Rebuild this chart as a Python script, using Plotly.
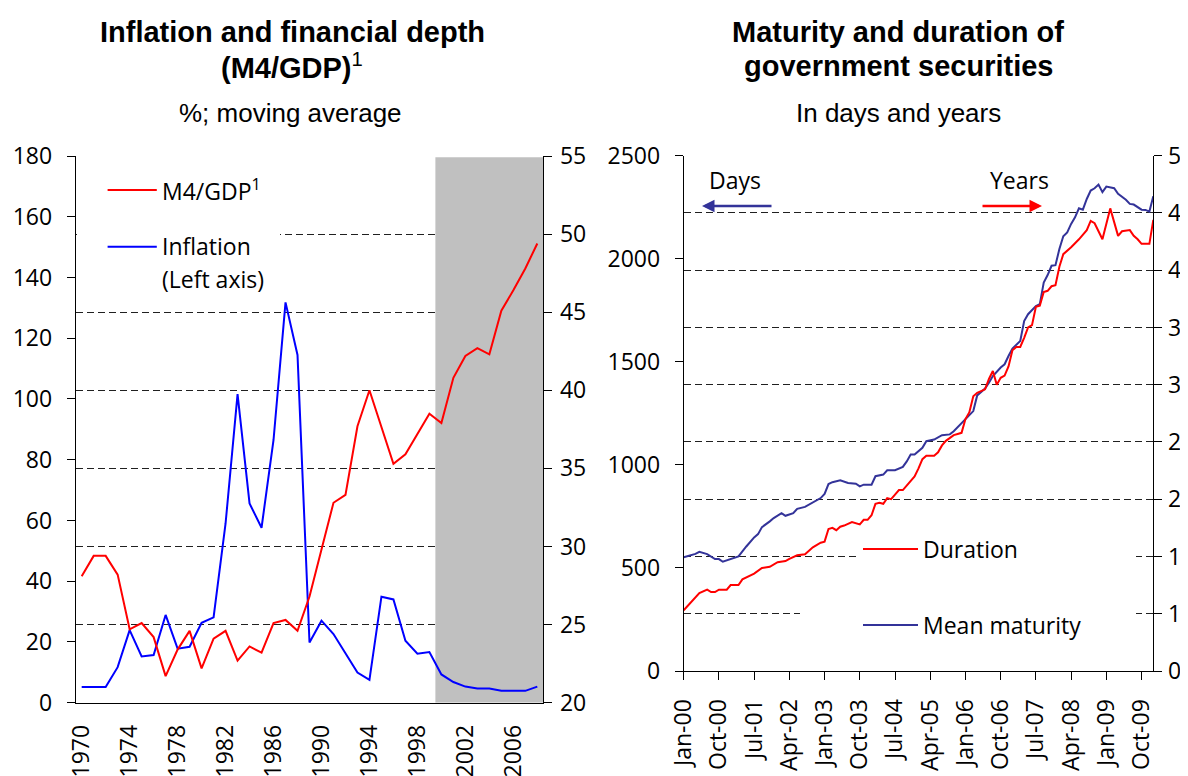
import plotly.graph_objects as go

# ---------------- Left panel data ----------------
years = list(range(1970, 2009))
inflation = [5.2, 5.2, 5.2, 11.7, 23.9, 15.2, 15.7, 28.9, 17.8, 18.4,
             26.3, 28.1, 59.0, 101.6, 65.6, 57.6, 86.5, 131.8, 114.5, 19.8,
             27.0, 22.6, 16.3, 9.9, 7.5, 34.9, 34.0, 20.4, 16.1, 16.7,
             9.3, 6.8, 5.3, 4.7, 4.7, 3.9, 3.9, 3.9, 5.3]
m4_gdp = [28.1, 29.4, 29.4, 28.2, 24.7, 25.1, 24.2, 21.7, 23.4, 24.6,
          22.2, 24.1, 24.6, 22.7, 23.6, 23.2, 25.1, 25.3, 24.6, 26.8,
          29.8, 32.8, 33.3, 37.7, 40.0, 37.7, 35.3, 35.9, 37.2, 38.5,
          37.9, 40.8, 42.2, 42.7, 42.3, 45.1, 46.4, 47.8, 49.4]
year_tick_vals = [1970, 1974, 1978, 1982, 1986, 1990, 1994, 1998, 2002, 2006]
year_tick_text = ["1970", "1974", "1978", "1982", "1986", "1990", "1994", "1998", "2002", "2006"]
shade_from, shade_to = 1999.5, 2008.5

# ---------------- Right panel data ----------------
maturity_month = [0, 3, 4, 6, 8, 9, 10, 12, 14, 16, 18, 19, 20, 22, 23, 25, 26, 28, 29, 31,
                  33, 35, 36, 37, 38, 40, 42, 44, 45, 46, 48, 49, 51, 52, 54, 56, 57, 58, 59, 60,
                  61, 62, 64, 66, 68, 69, 71, 73, 74, 75, 77, 78, 79, 81, 82, 83, 84, 86, 87, 88,
                  90, 91, 92, 93, 94, 95, 96, 97, 98, 99, 100, 101, 102, 103, 104, 105, 106, 107, 108, 110,
                  111, 113, 114, 115, 117, 118, 119, 120]
maturity_days = [552, 568, 578, 567, 543, 543, 530, 543, 556, 604, 648, 664, 698, 726, 742, 766, 753, 766, 787, 796,
                 818, 839, 859, 907, 916, 925, 912, 909, 896, 904, 904, 945, 953, 974, 974, 990, 1017, 1050, 1050, 1066,
                 1083, 1115, 1123, 1144, 1148, 1163, 1204, 1245, 1261, 1337, 1370, 1399, 1431, 1472, 1488, 1528, 1564, 1601, 1698, 1731,
                 1771, 1780, 1885, 1921, 1966, 1969, 2047, 2109, 2128, 2169, 2201, 2245, 2238, 2290, 2331, 2342, 2360, 2323, 2350, 2342,
                 2315, 2286, 2266, 2263, 2238, 2237, 2229, 2303]
duration_month = [0, 2, 3, 4, 6, 7, 8, 9, 11, 12, 14, 15, 18, 20, 22, 24, 26, 27, 29, 31,
                  33, 35, 36, 37, 38, 39, 40, 41, 43, 45, 46, 47, 48, 49, 50, 51, 52, 53, 54, 55,
                  56, 58, 59, 60, 61, 62, 64, 65, 66, 67, 69, 70, 71, 72, 73, 74, 75, 77, 78, 79,
                  80, 81, 82, 83, 84, 85, 86, 87, 88, 89, 90, 91, 92, 93, 94, 95, 96, 97, 99, 101,
                  103, 104, 105, 107, 109, 110, 111, 112, 114, 115, 116, 117, 119, 120]
duration_years = [0.53, 0.61, 0.64, 0.68, 0.71, 0.69, 0.69, 0.71, 0.71, 0.75, 0.75, 0.80, 0.85, 0.90, 0.91, 0.95, 0.96, 0.98, 1.01, 1.02,
                  1.08, 1.12, 1.13, 1.24, 1.25, 1.23, 1.26, 1.27, 1.30, 1.28, 1.32, 1.32, 1.36, 1.46, 1.47, 1.46, 1.51, 1.50, 1.54, 1.58,
                  1.58, 1.66, 1.70, 1.77, 1.85, 1.88, 1.88, 1.91, 1.97, 2.01, 2.06, 2.07, 2.08, 2.20, 2.26, 2.40, 2.43, 2.46, 2.55, 2.62,
                  2.50, 2.56, 2.58, 2.66, 2.80, 2.83, 2.83, 2.91, 3.00, 3.02, 3.18, 3.19, 3.31, 3.32, 3.36, 3.37, 3.53, 3.64, 3.70, 3.77,
                  3.85, 3.93, 3.91, 3.77, 4.04, 3.92, 3.80, 3.84, 3.85, 3.80, 3.77, 3.73, 3.73, 3.94]
month_tick_vals = [0, 9, 18, 27, 36, 45, 54, 63, 72, 81, 90, 99, 108, 117]
month_tick_text = ["Jan-00", "Oct-00", "Jul-01", "Apr-02", "Jan-03", "Oct-03", "Jul-04",
                   "Apr-05", "Jan-06", "Oct-06", "Jul-07", "Apr-08", "Jan-09", "Oct-09"]
years_axis_vals = [0, 0.5, 1, 1.5, 2, 2.5, 3, 3.5, 4, 4.5]
years_axis_text = ["0", "1", "1", "2", "2", "3", "3", "4", "4", "5"]

# ---------------- layout helpers (page has an 8px body offset) ----------------
W, H = 1188, 776
OFF = 8
def fx(p):
    return (p - OFF) / W
def fy(p):
    return 1 - (p - OFF) / H

# panel pixel boxes (reference coordinates)
L_X0, L_X1, L_Y0, L_Y1 = 75.7, 543.3, 156.0, 702.7
R_X0, R_X1, R_Y0, R_Y1 = 683.7, 1153.3, 155.7, 671.0
L_XR = [1969.5, 2008.5]
L_YR = [0, 180]
R_XR = [0, 120]
R_YR = [0, 2500]
def lx(p):
    return L_XR[0] + (p - L_X0) / (L_X1 - L_X0) * (L_XR[1] - L_XR[0])
def ly(p):
    return L_YR[0] + (L_Y1 - p) / (L_Y1 - L_Y0) * (L_YR[1] - L_YR[0])
def rx(p):
    return R_XR[0] + (p - R_X0) / (R_X1 - R_X0) * (R_XR[1] - R_XR[0])
def ry(p):
    return R_YR[0] + (R_Y1 - p) / (R_Y1 - R_Y0) * (R_YR[1] - R_YR[0])

RED = "#FF0000"
BLUE = "#0000FF"
NAVY = "#333399"
GRID = "#202020"
TICKFONT = dict(family="Open Sans", size=23, color="black")
TITLEFONT = dict(family="Liberation Sans", size=29, color="black")
SUBFONT = dict(family="Liberation Sans", size=26, color="black")

fig = go.Figure()

fig.add_trace(go.Scatter(x=years, y=inflation, mode="lines", name="Inflation",
                         line=dict(color=BLUE, width=2), xaxis="x", yaxis="y"))
fig.add_trace(go.Scatter(x=years, y=m4_gdp, mode="lines", name="M4/GDP",
                         line=dict(color=RED, width=2), xaxis="x", yaxis="y2"))
fig.add_trace(go.Scatter(x=maturity_month, y=maturity_days, mode="lines", name="Mean maturity",
                         line=dict(color=NAVY, width=2), xaxis="x2", yaxis="y3"))
fig.add_trace(go.Scatter(x=duration_month, y=duration_years, mode="lines", name="Duration",
                         line=dict(color=RED, width=2), xaxis="x2", yaxis="y4"))

axis_common = dict(showline=True, linecolor="black", linewidth=1, zeroline=False,
                   automargin=False, tickfont=TICKFONT, tickcolor="black", ticklen=8,
                   ticklabelstandoff=10)

boundaries = [v - 0.5 for v in year_tick_vals]

fig.update_layout(
    width=W, height=H, margin=dict(l=0, r=0, t=0, b=0, autoexpand=False),
    paper_bgcolor="white", plot_bgcolor="white", showlegend=False,
    xaxis=dict(domain=[fx(L_X0), fx(L_X1)], anchor="y", range=L_XR,
               tickmode="array", tickvals=year_tick_vals, ticktext=year_tick_text,
               tickangle=-90, ticks="", showgrid=False,
               **{**axis_common, "ticklabelstandoff": 12}),
    # tick marks at category boundaries
    xaxis3=dict(overlaying="x", matches="x", anchor="y", side="bottom",
                tickmode="array", tickvals=boundaries, showticklabels=False,
                ticks="outside", ticklen=8, tickcolor="black", showgrid=False,
                showline=False, zeroline=False, automargin=False),
    yaxis=dict(domain=[fy(L_Y1), fy(L_Y0)], anchor="x", range=L_YR, dtick=20,
               ticks="outside", showgrid=False, **axis_common),
    yaxis2=dict(overlaying="y", side="right", anchor="x", range=[20, 55], dtick=5,
                ticks="outside", showgrid=True, gridcolor=GRID, gridwidth=1,
                griddash="7px,4px",
                **{**axis_common, "ticklabelstandoff": 3}),
    xaxis2=dict(domain=[fx(R_X0), fx(R_X1)], anchor="y3", range=R_XR,
                tickmode="array", tickvals=month_tick_vals, ticktext=month_tick_text,
                tickangle=-90, ticks="outside", showgrid=False, **axis_common),
    yaxis3=dict(domain=[fy(R_Y1), fy(R_Y0)], anchor="x2", range=R_YR, dtick=500,
                ticks="outside", showgrid=False, **axis_common),
    yaxis4=dict(overlaying="y3", side="right", anchor="x2", range=[0, 4.5],
                tickmode="array", tickvals=years_axis_vals, ticktext=years_axis_text,
                ticks="outside", showgrid=True, gridcolor=GRID, gridwidth=1,
                griddash="7px,4px",
                **{**axis_common, "ticklabelstandoff": 1}),
)

shapes = [
    # shaded period (left panel)
    dict(type="rect", xref="x", yref="y", x0=shade_from, x1=shade_to, y0=0, y1=179.6,
         fillcolor="#C0C0C0", line=dict(width=0), layer="between"),
    # legend backgrounds hiding the grid
    dict(type="rect", xref="x", yref="y", x0=lx(77), x1=lx(280), y0=ly(300), y1=ly(168),
         fillcolor="white", line=dict(width=0), layer="between"),
    dict(type="rect", xref="x2", yref="y3", x0=rx(858), x1=rx(1136), y0=ry(575), y1=ry(528),
         fillcolor="white", line=dict(width=0), layer="between"),
    dict(type="rect", xref="x2", yref="y3", x0=rx(800), x1=rx(1136), y0=ry(645), y1=ry(598),
         fillcolor="white", line=dict(width=0), layer="between"),
    # legend keys
    dict(type="line", xref="paper", yref="paper", x0=fx(107.6), x1=fx(156.8), y0=fy(190), y1=fy(190),
         line=dict(color=RED, width=2)),
    dict(type="line", xref="paper", yref="paper", x0=fx(107.6), x1=fx(156.8), y0=fy(246.7), y1=fy(246.7),
         line=dict(color=BLUE, width=2)),
    dict(type="line", xref="paper", yref="paper", x0=fx(863), x1=fx(918), y0=fy(549), y1=fy(549),
         line=dict(color=RED, width=2)),
    dict(type="line", xref="paper", yref="paper", x0=fx(863), x1=fx(918), y0=fy(625), y1=fy(625),
         line=dict(color=NAVY, width=2)),
]
fig.update_layout(shapes=shapes)

def txt(text, x, y, font, xanchor="center"):
    return dict(text=text, x=fx(x), y=fy(y), xref="paper", yref="paper",
                xanchor=xanchor, yanchor="middle", showarrow=False, font=font)

annotations = [
    txt("<b>Inflation and financial depth</b>", 292, 32, TITLEFONT),
    txt("<b>(M4/GDP)</b><sup>1</sup>", 292, 66, TITLEFONT),
    txt("%; moving average", 290, 113, SUBFONT),
    txt("<b>Maturity and duration of</b>", 898, 32, TITLEFONT),
    txt("<b>government securities</b>", 898, 66, TITLEFONT),
    txt("In days and years", 898, 113, SUBFONT),
    txt("M4/GDP<sup>1</sup>", 160, 190, TICKFONT, "left"),
    txt("Inflation", 160, 246, TICKFONT, "left"),
    txt("(Left axis)", 160, 279, TICKFONT, "left"),
    txt("Days", 735, 180, TICKFONT),
    txt("Years", 1019, 180, TICKFONT),
    txt("Duration", 921, 549, TICKFONT, "left"),
    txt("Mean maturity", 921, 625, TICKFONT, "left"),
    dict(text="", x=fx(702), y=fy(206), xref="paper", yref="paper", showarrow=True,
         ax=71, ay=0, arrowhead=2, arrowsize=1, arrowwidth=2.5, arrowcolor=NAVY),
    dict(text="", x=fx(1042), y=fy(206), xref="paper", yref="paper", showarrow=True,
         ax=-61, ay=0, arrowhead=2, arrowsize=1, arrowwidth=2.5, arrowcolor=RED),
]
fig.update_layout(annotations=annotations)

fig.write_html("out.html")
